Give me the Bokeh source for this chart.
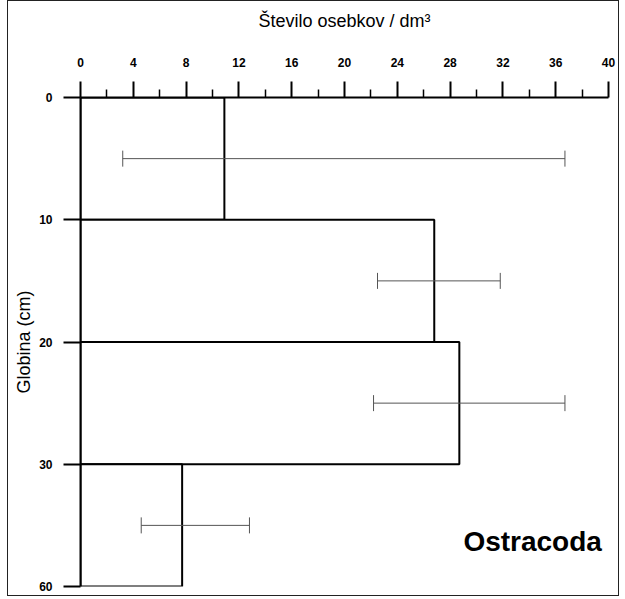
from bokeh.plotting import figure
from bokeh.models import Range1d, FixedTicker, Whisker, ColumnDataSource, TeeHead, Label
from bokeh.embed import file_html
from bokeh.resources import INLINE

# Data
depth_top = [0, 10, 20, 30]
depth_bottom = [10, 20, 30, 40]
counts = [10.9, 26.8, 28.7, 7.7]
err_low = [3.2, 22.5, 22.2, 4.6]
err_high = [36.7, 31.8, 36.7, 12.8]
x_ticks = [0, 4, 8, 12, 16, 20, 24, 28, 32, 36, 40]
x_minor = [2, 6, 10, 14, 18, 22, 26, 30, 34, 38]
y_ticks = [0, 10, 20, 30, 40]
y_tick_labels = ["0", "10", "20", "30", "60"]
x_title = "Število osebkov / dm³"
y_title = "Globina (cm)"
group_name = "Ostracoda"

FONT = "Liberation Sans"

p = figure(width=612, height=596,
           x_range=Range1d(0, 40), y_range=Range1d(40, 0),
           x_axis_location="above",
           output_backend="svg", toolbar_location=None,
           min_border_left=72, min_border_right=12,
           min_border_top=96, min_border_bottom=11,
           styles={"border": "1px solid #222", "margin-left": "7px",
                   "margin-top": "0px"})

p.grid.visible = False
p.outline_line_color = None
p.background_fill_color = "white"
p.border_fill_color = "white"

bars = ColumnDataSource(dict(top=depth_top, bottom=depth_bottom, right=counts,
                             left=[0] * len(counts)))
p.quad(left="left", right="right", top="top", bottom="bottom", source=bars,
       fill_color="white", line_color="black", line_width=2)

mid = [(a + b) / 2 for a, b in zip(depth_top, depth_bottom)]
esrc = ColumnDataSource(dict(mid=mid, lo=err_low, hi=err_high))
p.add_layout(Whisker(source=esrc, base="mid", lower="lo", upper="hi",
                     dimension="width", line_color="#555", line_width=1,
                     level="overlay",
                     upper_head=TeeHead(size=16, line_color="#555", line_width=1),
                     lower_head=TeeHead(size=16, line_color="#555", line_width=1)))

# top x axis
xa = p.xaxis[0]
xa.ticker = FixedTicker(ticks=x_ticks, minor_ticks=x_minor)
xa.axis_label = x_title
xa.axis_label_text_font = FONT
xa.axis_label_text_font_size = "18px"
xa.axis_label_text_font_style = "normal"
xa.axis_label_text_color = "black"
xa.axis_label_standoff = 24
xa.major_label_text_font = FONT
xa.major_label_text_font_size = "12px"
xa.major_label_text_font_style = "bold"
xa.major_label_text_color = "black"
xa.major_label_standoff = 15
xa.major_tick_out = 16
xa.major_tick_in = 0
xa.minor_tick_out = 8
xa.minor_tick_in = 0
xa.axis_line_width = 2
xa.major_tick_line_width = 2
xa.minor_tick_line_width = 1.5

# left y axis
ya = p.yaxis[0]
ya.ticker = FixedTicker(ticks=y_ticks, minor_ticks=[])
ya.major_label_overrides = {t: l for t, l in zip(y_ticks, y_tick_labels)}
ya.axis_label = y_title
ya.axis_label_text_font = FONT
ya.axis_label_text_font_size = "18px"
ya.axis_label_text_font_style = "normal"
ya.axis_label_text_color = "black"
ya.axis_label_standoff = 2
ya.major_label_text_font = FONT
ya.major_label_text_font_size = "12px"
ya.major_label_text_font_style = "bold"
ya.major_label_text_color = "black"
ya.major_label_standoff = 11
ya.major_tick_out = 17
ya.major_tick_in = 0
ya.axis_line_width = 2
ya.major_tick_line_width = 2

p.add_layout(Label(x=39.5, y=36.3, text=group_name, text_font=FONT,
                   text_font_size="28px", text_font_style="bold",
                   text_align="right", text_baseline="middle",
                   text_color="black"))

open("out.html", "w").write(file_html(p, INLINE))
